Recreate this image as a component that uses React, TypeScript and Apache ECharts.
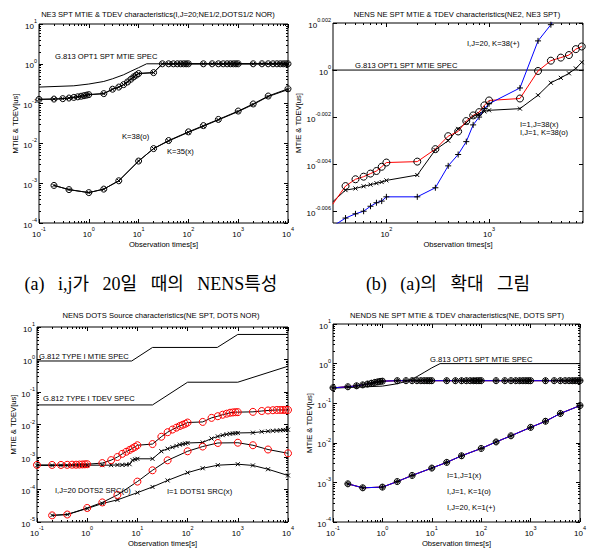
import React, { useEffect, useRef } from 'react';
import * as echarts from 'echarts';

// ---------------- data ----------------
const tauMtie = [0.1, 0.2, 0.3, 0.4, 0.5, 0.6, 0.7, 0.8, 0.9, 1, 2, 3, 4, 5, 6, 7, 8, 9, 10, 20, 30, 40, 50, 60, 70, 80, 90, 100, 200, 300, 400, 500, 600, 700, 800, 900, 1000, 2000, 3000, 4000, 5000, 6000, 7000, 8000, 9000, 10000];
const tauTdev = [0.2, 0.4, 1, 2, 4, 10, 20, 40, 100, 200, 400, 1000, 2000, 4000, 10000];

// (a)
const specA_tau = [0.1, 0.5, 1, 2, 3, 5, 7, 10, 14.5, 10000];
const specA_val = [0.26, 0.28, 0.31, 0.36, 0.42, 0.53, 0.65, 0.8, 1.0, 1.0];
const mtieA_K38 = [0.128, 0.13, 0.133, 0.138, 0.143, 0.148, 0.153, 0.158, 0.163, 0.168, 0.178, 0.23, 0.26, 0.3, 0.35, 0.41, 0.47, 0.52, 0.57, 0.6, 1, 1, 1, 1, 1, 1, 1, 1, 1, 1, 1, 1, 1, 1, 1, 1, 1, 1, 1, 1, 1, 1, 1, 1, 1, 1];
const mtieA_K35 = [0.128, 0.13, 0.133, 0.138, 0.143, 0.148, 0.153, 0.158, 0.163, 0.168, 0.178, 0.23, 0.26, 0.3, 0.35, 0.41, 0.47, 0.52, 0.57, 0.6, 1, 1, 1, 1, 1, 1, 1, 1, 1, 1, 1, 1, 1, 1, 1, 1, 1, 1, 1, 1, 1, 1, 1, 1, 1, 1];
const tdevA_K38 = [8.8e-4, 6.9e-4, 5.8e-4, 7.1e-4, 1.15e-3, 3.6e-3, 7.4e-3, 1.18e-2, 1.95e-2, 2.8e-2, 4.0e-2, 6.5e-2, 9.8e-2, 0.155, 0.235];
const tdevA_K35 = [8.8e-4, 6.9e-4, 5.8e-4, 7.1e-4, 1.15e-3, 3.6e-3, 7.4e-3, 1.15e-2, 1.9e-2, 2.7e-2, 3.9e-2, 6.3e-2, 9.5e-2, 0.15, 0.225];

// (b)
const tauB = [30, 40, 50, 60, 70, 80, 90, 100, 200, 300, 400, 500, 600, 700, 800, 900, 1000, 2000, 3000, 4000, 5000, 6000, 7000, 8000];
const bRed = [0.98696, 0.98871, 0.98937, 0.98962, 0.98992, 0.99017, 0.99058, 0.99099, 0.99108, 0.99229, 0.99355, 0.99401, 0.99502, 0.99557, 0.99589, 0.99655, 0.99703, 0.99722, 0.99991, 1.00092, 1.00122, 1.00147, 1.00205, 1.00231];
const bBlack = [0.98719, 0.98832, 0.98848, 0.98869, 0.98885, 0.98899, 0.9891, 0.98926, 0.98978, 0.99222, 0.99311, 0.99426, 0.99486, 0.99547, 0.99573, 0.99596, 0.99607, 0.99623, 0.99754, 0.99876, 0.99924, 0.99968, 1.00016, 1.00076];
const tauBBlue = [30, 40, 50, 60, 70, 80, 90, 100, 200, 300, 400, 500, 600, 700, 800, 900, 1000, 2000, 3000, 4000, 5000];
const bBlue = [0.98483, 0.98562, 0.98603, 0.98628, 0.98676, 0.9871, 0.98726, 0.98767, 0.98767, 0.98855, 0.99067, 0.99177, 0.99302, 0.99465, 0.99541, 0.99623, 0.99671, 0.99825, 1.00286, 1.00445, 1.00647];
const specB_tau = [10, 10000];
const specB_val = [1, 1];

// (c)
const specC_mtie_tau = [0.1, 7.7, 20, 390, 1000, 10000];
const specC_mtie_val = [0.9, 0.9, 2.35, 2.35, 5.9, 5.9];
const specC_tdev_tau = [0.1, 20, 100, 1000, 10000];
const specC_tdev_val = [0.04, 0.04, 0.2, 0.2, 0.62];
const mtieC_dots2 = [5.7e-4, 5.7e-4, 5.7e-4, 5.75e-4, 5.8e-4, 5.8e-4, 5.85e-4, 5.9e-4, 5.95e-4, 6.0e-4, 6.5e-4, 8.0e-4, 1.0e-3, 1.25e-3, 1.45e-3, 1.65e-3, 1.85e-3, 2.05e-3, 2.3e-3, 2.5e-3, 4.2e-3, 5.8e-3, 7.0e-3, 8.0e-3, 9.0e-3, 9.8e-3, 1.05e-2, 1.15e-2, 1.2e-2, 1.6e-2, 1.8e-2, 2.0e-2, 2.15e-2, 2.3e-2, 2.35e-2, 2.4e-2, 2.4e-2, 2.45e-2, 2.6e-2, 2.7e-2, 2.75e-2, 2.8e-2, 2.8e-2, 2.8e-2, 2.8e-2, 2.8e-2];
const mtieC_dots1 = [5.5e-4, 5.5e-4, 5.5e-4, 5.5e-4, 5.5e-4, 5.5e-4, 5.55e-4, 5.55e-4, 5.55e-4, 5.6e-4, 5.6e-4, 5.6e-4, 5.7e-4, 5.7e-4, 5.8e-4, 6.0e-4, 8.0e-4, 8.5e-4, 8.8e-4, 8.8e-4, 1.5e-3, 1.8e-3, 2.0e-3, 2.2e-3, 2.4e-3, 2.5e-3, 2.6e-3, 2.7e-3, 2.8e-3, 3.7e-3, 4.3e-3, 4.7e-3, 5.0e-3, 5.2e-3, 5.3e-3, 5.4e-3, 5.5e-3, 5.6e-3, 6.0e-3, 6.2e-3, 6.4e-3, 6.5e-3, 6.6e-3, 6.7e-3, 6.8e-3, 6.9e-3];
const tdevC_dots2 = [1.6e-5, 1.7e-5, 2.7e-5, 4.0e-5, 6.8e-5, 1.75e-4, 3.9e-4, 7.9e-4, 1.5e-3, 2.1e-3, 2.7e-3, 2.75e-3, 2.3e-3, 1.7e-3, 1.3e-3];
const tdevC_dots1 = [1.6e-5, 1.7e-5, 2.6e-5, 3.7e-5, 4.8e-5, 8.0e-5, 1.2e-4, 1.9e-4, 3.3e-4, 4.5e-4, 5.6e-4, 6.0e-4, 5.5e-4, 4.2e-4, 2.7e-4];

// (d)
const specD_tau = [0.1, 1, 2, 3.4, 5, 7, 10, 14.7, 10000];
const specD_val = [0.24, 0.27, 0.31, 0.37, 0.47, 0.6, 0.78, 1.0, 1.0];
const mtieD = [0.245, 0.26, 0.275, 0.29, 0.305, 0.32, 0.335, 0.345, 0.355, 0.36, 0.37, 0.37, 0.37, 0.37, 0.37, 0.37, 0.37, 0.37, 0.37, 0.37, 0.37, 0.37, 0.37, 0.37, 0.37, 0.37, 0.37, 0.37, 0.37, 0.37, 0.37, 0.37, 0.37, 0.37, 0.37, 0.37, 0.37, 0.37, 0.37, 0.37, 0.37, 0.37, 0.37, 0.37, 0.37, 0.37];
const tdevD = [9.2e-4, 7.3e-4, 7.6e-4, 1.05e-3, 1.5e-3, 2.3e-3, 3.2e-3, 4.7e-3, 7.2e-3, 1.05e-2, 1.5e-2, 2.45e-2, 3.5e-2, 5.5e-2, 8.7e-2];

// tick exponents
const decX = [-1, 0, 1, 2, 3, 4];
const decYA = [-4, -3, -2, -1, 0, 1];
const decYC = [-5, -4, -3, -2, -1, 0, 1];
const decYD = [-4, -3, -2, -1, 0, 1];
const decXB = [2, 3];
const decYB = [-0.006, -0.004, -0.002, 0, 0.002];

// texts
const titles = [
  'NE3 SPT MTIE & TDEV characteristics(I,J=20;NE1/2,DOTS1/2 NOR)',
  'NENS NE SPT MTIE & TDEV characteristics(NE2, NE3 SPT)',
  'NENS DOTS Source characteristics(NE SPT, DOTS NOR)',
  'NENDS NE SPT MTIE & TDEV characteristics(NE, DOTS SPT)',
];
const GAP = '\u00a0\u00a0\u00a0';
const captionA = ['(a)', 'i,j가', '20일', '때의', 'NENS특성'].join(GAP);
const captionB = ['(b)', '(a)의', '확대', '그림'].join(GAP);

// ---------------- helpers ----------------
const FONT = "'Liberation Sans', Arial, Helvetica, sans-serif";
const SERIF = "'Liberation Serif', 'DejaVu Serif', 'Noto Sans CJK KR', serif";
const L = (v: number) => Math.log10(v);
const SYM_X = 'path://M0 0L5 5M5 0L0 5';
const SYM_P = 'path://M3 0L3 6M0 3L6 3';

const rich = {
  b: { fontSize: 8, fontFamily: FONT, color: '#000', verticalAlign: 'bottom', lineHeight: 12 },
  s: { fontSize: 5.5, fontFamily: FONT, color: '#000', verticalAlign: 'top' },
};
const fmtExp = (v: number) => {
  const r = Math.round(v * 1000) / 1000;
  return Math.abs(r) < 1e-9 ? '0' : String(r);
};
const labelFmt = (v: number) => `{b|10}{s|${fmtExp(v)}}`;

function minorVals(r: [number, number]) {
  const out: number[] = [];
  for (let e = Math.floor(r[0]) - 1; e <= Math.ceil(r[1]); e++) {
    for (let k = 2; k <= 9; k++) {
      const v = e + Math.log10(k);
      if (v > r[0] + 1e-9 && v < r[1] - 1e-9) out.push(v);
    }
  }
  return out;
}

function mk(xs: number[], ys: number[]) {
  return xs.map((x, i) => [L(x), L(ys[i])]);
}

function lineSeries(xs: number[], ys: number[], color: string, symbol?: string, symColor?: string, size?: number, z = 2) {
  return {
    type: 'line',
    data: mk(xs, ys),
    lineStyle: { color, width: 1 },
    symbol: symbol || 'none',
    showSymbol: !!symbol,
    symbolSize: size || 6,
    itemStyle: { color: 'rgba(0,0,0,0)', borderColor: symColor || color, borderWidth: 1 },
    clip: true,
    silent: true,
    z,
    emphasis: { disabled: true },
  };
}

type Panel = {
  grid: { left: number; top: number; width: number; height: number };
  xr: [number, number];
  yr: [number, number];
  xMajor: number[];
  yMajor: number[];
  yMinor: boolean;
  yNameGap: number;
  series: any[];
};

const panels: Panel[] = [
  {
    grid: { left: 39, top: 24, width: 249, height: 199 },
    xr: [-1, 4], yr: [-4, 1], xMajor: decX, yMajor: decYA, yMinor: true, yNameGap: 20,
    series: [
      lineSeries(specA_tau, specA_val, '#000'),
      lineSeries(tauMtie, mtieA_K35, '#000', SYM_X, '#000', 4),
      lineSeries(tauMtie, mtieA_K38, '#000', 'circle', '#000', 6),
      lineSeries(tauTdev, tdevA_K35, '#000', SYM_X, '#000', 4),
      lineSeries(tauTdev, tdevA_K38, '#000', 'circle', '#000', 6),
    ],
  },
  {
    grid: { left: 333, top: 23, width: 250, height: 200 },
    xr: [1.48, 3.915], yr: [-0.0065, 0.002], xMajor: decXB, yMajor: decYB, yMinor: false, yNameGap: 28,
    series: [
      lineSeries(specB_tau, specB_val, '#000'),
      lineSeries(tauB, bBlack, '#000', SYM_X, '#000', 4),
      lineSeries(tauB, bRed, '#ff0000', 'circle', '#000', 7),
      lineSeries(tauBBlue, bBlue, '#0000ff', SYM_P, '#000', 6),
    ],
  },
  {
    grid: { left: 37, top: 327, width: 251, height: 198 },
    xr: [-1, 4], yr: [-5, 1], xMajor: decX, yMajor: decYC, yMinor: true, yNameGap: 18,
    series: [
      lineSeries(specC_mtie_tau, specC_mtie_val, '#000'),
      lineSeries(specC_tdev_tau, specC_tdev_val, '#000'),
      lineSeries(tauMtie, mtieC_dots1, '#000', SYM_X, '#000', 4),
      lineSeries(tauMtie, mtieC_dots2, '#000', 'circle', '#ff0000', 7),
      lineSeries(tauTdev, tdevC_dots1, '#000', SYM_X, '#000', 4),
      lineSeries(tauTdev, tdevC_dots2, '#000', 'circle', '#ff0000', 7),
    ],
  },
  {
    grid: { left: 333, top: 324, width: 250, height: 201 },
    xr: [-1, 4], yr: [-4, 1], xMajor: decX, yMajor: decYD, yMinor: true, yNameGap: 18,
    series: [
      lineSeries(specD_tau, specD_val, '#000'),
      lineSeries(tauMtie, mtieD, '#000', SYM_X, '#000', 4),
      lineSeries(tauMtie, mtieD, '#ff0000', 'circle', '#000', 6),
      lineSeries(tauMtie, mtieD, '#0000ff', SYM_P, '#000', 6),
      lineSeries(tauTdev, tdevD, '#000', SYM_X, '#000', 4),
      lineSeries(tauTdev, tdevD, '#ff0000', 'circle', '#000', 6),
      lineSeries(tauTdev, tdevD, '#0000ff', SYM_P, '#000', 6),
    ],
  },
];

function buildOption() {
  const xAxis: any[] = [];
  const yAxis: any[] = [];
  const series: any[] = [];
  const grid: any[] = [];
  panels.forEach((p, gi) => {
    grid.push({ ...p.grid, show: true, borderColor: '#000', borderWidth: 1, backgroundColor: 'rgba(0,0,0,0)', containLabel: false });
    const base = (r: [number, number]) => ({
      type: 'value', gridIndex: gi, min: r[0], max: r[1],
      axisLine: { show: false, onZero: false },
      splitLine: { show: false },
      axisPointer: { show: false },
      silent: true,
    });
    const tick = (vals: number[], len: number) => ({ show: true, inside: true, length: len, customValues: vals, lineStyle: { color: '#000', width: 1 } });
    const xi = xAxis.length;
    const yi = yAxis.length;
    const xMin = minorVals(p.xr);
    xAxis.push({
      ...base(p.xr), position: 'bottom', axisTick: tick(p.xMajor, 4),
      axisLabel: { show: true, customValues: p.xMajor, formatter: labelFmt, rich, margin: 3, color: '#000', fontFamily: FONT, fontSize: 8 },
      name: 'Observation times[s]', nameLocation: 'middle', nameGap: 17,
      nameTextStyle: { fontFamily: FONT, fontSize: 7.6, color: '#000' },
    });
    xAxis.push({ ...base(p.xr), position: 'top', axisTick: tick(p.xMajor, 4), axisLabel: { show: false } });
    xAxis.push({ ...base(p.xr), position: 'bottom', axisTick: tick(xMin, 2), axisLabel: { show: false } });
    xAxis.push({ ...base(p.xr), position: 'top', axisTick: tick(xMin, 2), axisLabel: { show: false } });
    yAxis.push({
      ...base(p.yr), position: 'left', axisTick: tick(p.yMajor, 4),
      axisLabel: { show: true, customValues: p.yMajor, formatter: labelFmt, rich, margin: 2, color: '#000', fontFamily: FONT, fontSize: 8 },
      name: 'MTIE & TDEV[us]', nameLocation: 'middle', nameGap: p.yNameGap,
      nameTextStyle: { fontFamily: FONT, fontSize: 7.6, color: '#000' },
    });
    yAxis.push({ ...base(p.yr), position: 'right', axisTick: tick(p.yMajor, 4), axisLabel: { show: false } });
    if (p.yMinor) {
      const yMin = minorVals(p.yr);
      yAxis.push({ ...base(p.yr), position: 'left', axisTick: tick(yMin, 2), axisLabel: { show: false } });
      yAxis.push({ ...base(p.yr), position: 'right', axisTick: tick(yMin, 2), axisLabel: { show: false } });
    }
    p.series.forEach((s) => series.push({ ...s, xAxisIndex: xi, yAxisIndex: yi }));
  });

  const t = (x: number, y: number, text: string, align = 'left', size = 7.6, family = FONT) => ({
    type: 'text', x, y, silent: true, z: 10,
    style: { text, fill: '#000', fontSize: size, fontFamily: family, align, verticalAlign: 'middle', textAlign: align, textVerticalAlign: 'middle' },
  });

  const graphic = [
    t(158, 14, titles[0], 'center'),
    t(457, 14, titles[1], 'center'),
    t(161, 315, titles[2], 'center'),
    t(457, 315, titles[3], 'center'),
    // (a)
    t(55, 56, 'G.813 OPT1 SPT MTIE SPEC'),
    t(122, 136, 'K=38(o)'),
    t(167, 151, 'K=35(x)'),
    // (b)
    t(467, 43, 'I,J=20, K=38(+)'),
    t(355, 65, 'G.813 OPT1 SPT MTIE SPEC'),
    t(520, 124, 'I=1,J=38(x)'),
    t(520, 132, 'I,J=1, K=38(o)'),
    // (c)
    t(39, 356, 'G.812 TYPE I MTIE SPEC'),
    t(43, 398, 'G.812 TYPE I TDEV SPEC'),
    t(55, 490, 'I,J=20 DOTS2 SRC(o)'),
    t(167, 491, 'I=1 DOTS1 SRC(x)'),
    // (d)
    t(430, 359, 'G.813 OPT1 SPT MTIE SPEC'),
    t(447, 475, 'I=1,J=1(x)'),
    t(447, 491, 'I,J=1, K=1(o)'),
    t(447, 507, 'I,J=20, K=1(+)'),
    // captions
    t(151, 284, captionA, 'center', 18, SERIF),
    t(448, 284, captionB, 'center', 18, SERIF),
  ];

  return {
    animation: false,
    backgroundColor: '#fff',
    textStyle: { fontFamily: FONT },
    grid, xAxis, yAxis, series, graphic,
  };
}

export default function App() {
  const ref = useRef<HTMLDivElement>(null);
  useEffect(() => {
    document.body.style.margin = '0';
    const chart = echarts.init(ref.current!, null, { renderer: 'svg' });
    chart.setOption(buildOption() as any);
    return () => chart.dispose();
  }, []);
  return <div ref={ref} style={{ width: 589, height: 548, background: '#fff' }} />;
}
